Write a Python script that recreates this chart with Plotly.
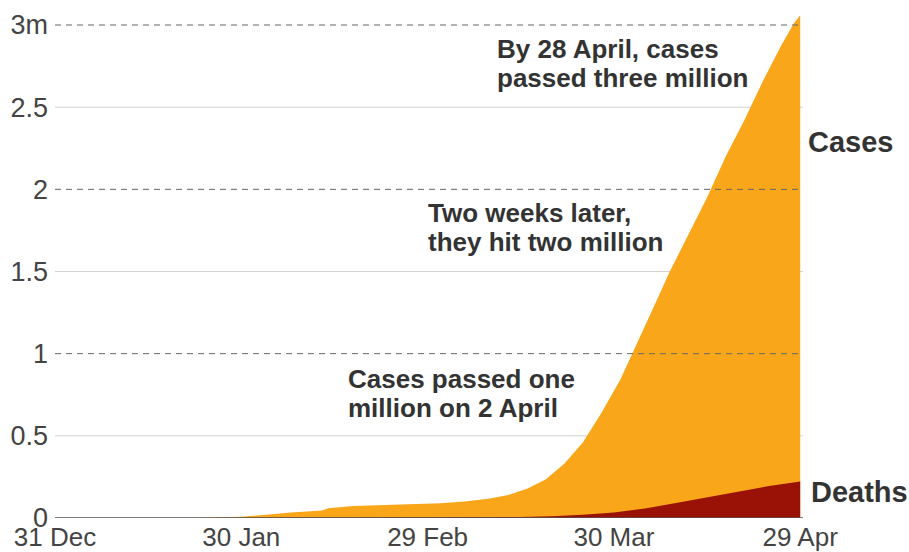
import pandas as pd
import plotly.graph_objects as go

# ---- data (millions) ----
case_dates = ["2020-01-22", "2020-01-26", "2020-01-30", "2020-02-03", "2020-02-07",
              "2020-02-12", "2020-02-13", "2020-02-17", "2020-02-22", "2020-02-27",
              "2020-03-02", "2020-03-06", "2020-03-10", "2020-03-13", "2020-03-16",
              "2020-03-19", "2020-03-22", "2020-03-25", "2020-03-28", "2020-03-31",
              "2020-04-02", "2020-04-05", "2020-04-08", "2020-04-11", "2020-04-14",
              "2020-04-17", "2020-04-20", "2020-04-23", "2020-04-26", "2020-04-28",
              "2020-04-29"]
cases_m = [0.0006, 0.002, 0.008, 0.020, 0.034,
           0.045, 0.060, 0.073, 0.079, 0.083,
           0.090, 0.101, 0.118, 0.140, 0.178,
           0.235, 0.330, 0.460, 0.640, 0.840,
           1.00, 1.25, 1.50, 1.73, 1.95,
           2.20, 2.42, 2.66, 2.88, 3.01,
           3.06]

death_dates = ["2020-01-22", "2020-02-12", "2020-02-29", "2020-03-10", "2020-03-15",
               "2020-03-20", "2020-03-25", "2020-03-30", "2020-04-04", "2020-04-09",
               "2020-04-14", "2020-04-19", "2020-04-24", "2020-04-29"]
deaths_m = [0.00002, 0.0011, 0.003, 0.0043, 0.0065,
            0.0114, 0.020, 0.034, 0.058, 0.092,
            0.125, 0.162, 0.195, 0.222]

x_tick_vals = ["2019-12-31", "2020-01-30", "2020-02-29", "2020-03-30", "2020-04-29"]
x_tick_text = ["31 Dec", "30 Jan", "29 Feb", "30 Mar", "29 Apr"]
y_tick_vals = [0, 0.5, 1, 1.5, 2, 2.5, 3]
y_tick_text = ["0", "0.5", "1", "1.5", "2", "2.5", "3m"]
dashed_levels = [1, 2, 3]
solid_levels = [0.5, 1.5, 2.5]

CASES = "#FAA61A"
DEATHS = "#9A1205"
TXT = "#333333"
TICK = "#444444"
FONT = "Liberation Sans, Arial, Helvetica, sans-serif"

W, H = 909, 552
L, R, T, B = 55, 106, 10, 34
pw = W - L - R
ph = H - T - B
px_per_day = 6.21
px_per_m = 164.33

x_start = pd.Timestamp("2019-12-31")
x_end = x_start + pd.Timedelta(days=pw / px_per_day)
y_top = ph / px_per_m


def xp(p):
    return (p - L) / pw


def yp(p):
    return (H - B - p) / ph


fig = go.Figure()
fig.add_trace(go.Scatter(x=case_dates, y=cases_m, mode="lines", fill="tozeroy",
                         line=dict(width=0, color=CASES), fillcolor=CASES,
                         hoverinfo="skip", showlegend=False))
fig.add_trace(go.Scatter(x=death_dates, y=deaths_m, mode="lines", fill="tozeroy",
                         line=dict(width=0, color=DEATHS), fillcolor=DEATHS,
                         hoverinfo="skip", showlegend=False))

shapes = []
for v in solid_levels:
    shapes.append(dict(type="line", xref="paper", yref="y", x0=0, x1=1, y0=v, y1=v,
                       line=dict(color="#d2d2d2", width=1), layer="below"))
for v in dashed_levels:
    shapes.append(dict(type="line", xref="paper", yref="y", x0=0, x1=1, y0=v, y1=v,
                       line=dict(color="#666666", width=1, dash="6px,5px"), layer="above"))
shapes.append(dict(type="line", xref="paper", yref="y", x0=0, x1=1, y0=0, y1=0,
                   line=dict(color="#555555", width=1.5), layer="above"))

annotations = []


def note(text, x, y, size=26):
    annotations.append(dict(text="<b>%s</b>" % text, xref="paper", yref="paper",
                            x=xp(x), y=yp(y), xanchor="left", yanchor="middle",
                            showarrow=False, font=dict(family=FONT, size=size, color=TXT)))


note("By 28 April, cases", 495, 49)
note("passed three million", 495, 78)
note("Two weeks later,", 426, 213)
note("they hit two million", 426, 242)
note("Cases passed one", 346, 379)
note("million on 2 April", 346, 408)
note("Cases", 806, 142, 29)
note("Deaths", 809, 492, 29)

fig.update_layout(
    width=W, height=H,
    margin=dict(l=L, r=R, t=T, b=B, pad=0, autoexpand=False),
    paper_bgcolor="white", plot_bgcolor="white",
    shapes=shapes, annotations=annotations,
    xaxis=dict(type="date", range=[x_start, x_end], showgrid=False, zeroline=False,
               showline=False, ticks="", tickmode="array", tickvals=x_tick_vals,
               ticktext=x_tick_text, tickfont=dict(family=FONT, size=26, color=TICK),
               ticklabelstandoff=1, automargin=False, fixedrange=True),
    yaxis=dict(range=[0, y_top], showgrid=False, zeroline=False, showline=False,
               ticks="", tickmode="array", tickvals=y_tick_vals, ticktext=y_tick_text,
               tickfont=dict(family=FONT, size=27, color=TICK),
               ticklabelstandoff=6, automargin=False, fixedrange=True),
)

fig.write_html("out.html", config={"displayModeBar": False},
               post_script="document.body.style.margin='0';document.body.style.overflow='hidden';")
